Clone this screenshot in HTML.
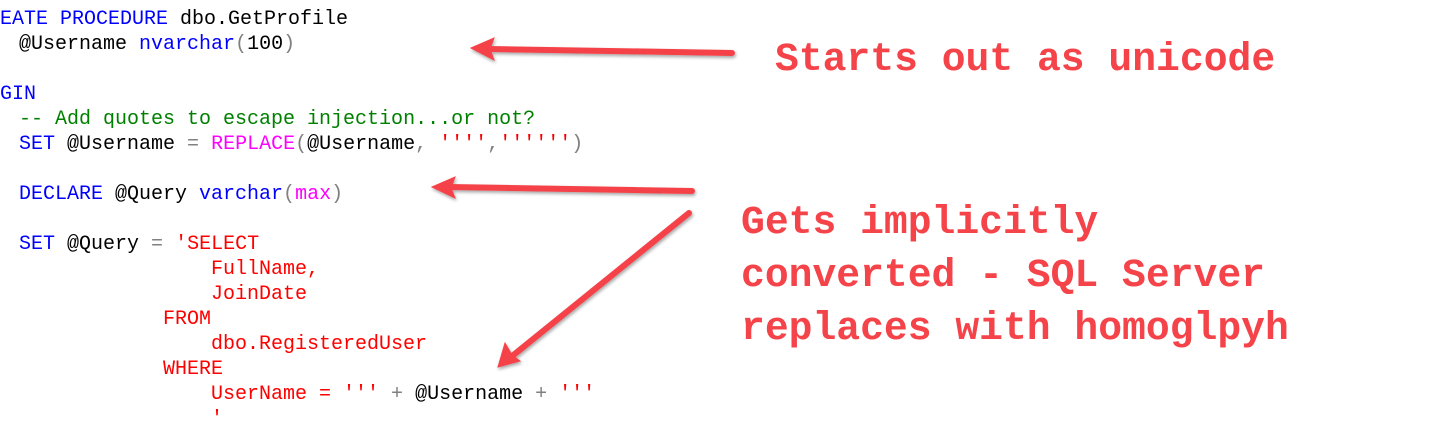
<!DOCTYPE html>
<html><head><meta charset="utf-8"><style>
html,body{margin:0;padding:0;background:#fff;width:1455px;height:426px;overflow:hidden;position:relative}
.c{position:absolute;font-family:"Liberation Mono",monospace;font-size:20px;line-height:25px;white-space:pre;color:#000}
.k{color:#0000ff}.g{color:#808080}.m{color:#ff00ff}.r{color:#ff0000}.gr{color:#008000}
.a{position:absolute;font-family:"Liberation Mono",monospace;font-weight:bold;font-size:39.7px;line-height:53px;color:#f5434a;white-space:pre}
</style></head><body>
<div class="c" style="left:-24px;top:7px"><span class="k">CREATE PROCEDURE</span> dbo.GetProfile</div>
<div class="c" style="left:19px;top:32px">@Username <span class="k">nvarchar</span><span class="g">(</span>100<span class="g">)</span></div>
<div class="c k" style="left:-24px;top:82px">BEGIN</div>
<div class="c gr" style="left:19px;top:107px">-- Add quotes to escape injection...or not?</div>
<div class="c" style="left:19px;top:132px"><span class="k">SET</span> @Username <span class="g">=</span> <span class="m">REPLACE</span><span class="g">(</span>@Username<span class="g">,</span> <span class="r">''''</span><span class="g">,</span><span class="r">''''''</span><span class="g">)</span></div>
<div class="c" style="left:19px;top:182px"><span class="k">DECLARE</span> @Query <span class="k">varchar</span><span class="g">(</span><span class="m">max</span><span class="g">)</span></div>
<div class="c" style="left:19px;top:232px"><span class="k">SET</span> @Query <span class="g">=</span> <span class="r">'SELECT</span></div>
<div class="c r" style="left:211px;top:257px">FullName,</div>
<div class="c r" style="left:211px;top:282px">JoinDate</div>
<div class="c r" style="left:163px;top:307px">FROM</div>
<div class="c r" style="left:211px;top:332px">dbo.RegisteredUser</div>
<div class="c r" style="left:163px;top:357px">WHERE</div>
<div class="c" style="left:211px;top:382px"><span class="r">UserName = '''</span> <span class="g">+</span> @Username <span class="g">+</span> <span class="r">'''</span></div>
<div class="c r" style="left:211px;top:407px">'</div>

<div class="a" style="left:775px;top:33px">Starts out as unicode</div>
<div class="a" style="left:741px;top:196px">Gets implicitly
converted - SQL Server
replaces with homoglpyh</div>

<svg width="1455" height="426" style="position:absolute;left:0;top:0">
<defs><filter id="s" x="-10%" y="-50%" width="120%" height="200%"><feDropShadow dx="1" dy="2" stdDeviation="1.5" flood-color="#000" flood-opacity="0.35"/></filter></defs>
<g fill="#f5434a" stroke="#f5434a" filter="url(#s)">
<line x1="732" y1="53" x2="488" y2="49" stroke-width="6" stroke-linecap="round"/>
<polygon points="471,48 494,38 490,49 494,60" stroke-width="1"/>
<line x1="692" y1="191" x2="449" y2="187" stroke-width="6" stroke-linecap="round"/>
<polygon points="432,187 455,177 451,188 455,198" stroke-width="1"/>
<line x1="689" y1="213" x2="511" y2="357" stroke-width="6" stroke-linecap="round"/>
<polygon points="498,367 505,343 512,355 520,361" stroke-width="1"/>
</g>
</svg>
</body></html>
